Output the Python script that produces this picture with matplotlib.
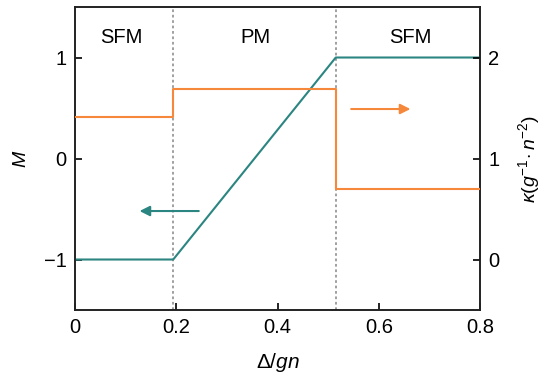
import matplotlib
matplotlib.use("Agg")
import matplotlib.pyplot as plt

# phase boundaries and curves
bounds = [0.194, 0.515]
m_x = [0.0, 0.194, 0.515, 0.8]
m_y = [-1.0, -1.0, 1.0, 1.0]
k_x = [0.0, 0.194, 0.194, 0.515, 0.515, 0.8]
k_y = [1.41, 1.41, 1.685, 1.685, 0.70, 0.70]
regions = ["SFM", "PM", "SFM"]
region_x = [0.091, 0.356, 0.662]

teal = "#2b8581"
orange = "#f5883a"

plt.rcParams["font.family"] = ["Liberation Sans", "DejaVu Sans"]
plt.rcParams["mathtext.fontset"] = "custom"
plt.rcParams["mathtext.it"] = "Liberation Sans:italic"
plt.rcParams["mathtext.rm"] = "Liberation Sans"

fig = plt.figure(figsize=(5.45, 3.77), dpi=100)
ax = fig.add_axes([0.1376, 0.1777, 0.7432, 0.8037])
ax2 = ax.twinx()

for b in bounds:
    ax.axvline(b, color="#999999", ls=(0, (1.5, 1.5)), lw=1.3, zorder=1)

ax.plot(m_x, m_y, color=teal, lw=1.5, zorder=3)
ax2.plot(k_x, k_y, color=orange, lw=1.5, zorder=3)

ax.set_xlim(0, 0.8)
ax.set_ylim(-1.5, 1.5)
ax2.set_ylim(-0.5, 2.5)
ax.set_xticks([0, 0.2, 0.4, 0.6, 0.8])
ax.set_xticklabels(["0", "0.2", "0.4", "0.6", "0.8"])
ax.set_yticks([-1, 0, 1])
ax.set_yticklabels(["\u22121", "0", "1"])
ax2.set_yticks([0, 1, 2])

for a in (ax, ax2):
    a.tick_params(direction="in", length=5, width=1.2, labelsize=14.5, pad=6)
    for s in a.spines.values():
        s.set_linewidth(1.2)
        s.set_color("#222222")

ax.set_xlabel(r"$\mathit{\Delta/gn}$", fontsize=15, labelpad=10)
ax.set_ylabel(r"$M$", fontsize=14, labelpad=10)
ax2.set_ylabel(r"$\kappa(g^{-1}\!\cdot n^{-2})$", fontsize=14, labelpad=12)

for name, x in zip(regions, region_x):
    ax.text(x, 1.2, name, ha="center", va="center", fontsize=14.5)

ax.annotate("", xy=(0.668, 0.49), xytext=(0.54, 0.49),
            arrowprops=dict(arrowstyle="-|>", color=orange, lw=1.5,
                            mutation_scale=15))
ax.annotate("", xy=(0.122, -0.52), xytext=(0.25, -0.52),
            arrowprops=dict(arrowstyle="-|>", color=teal, lw=1.5,
                            mutation_scale=15))

fig.savefig("out.png", dpi=100)
